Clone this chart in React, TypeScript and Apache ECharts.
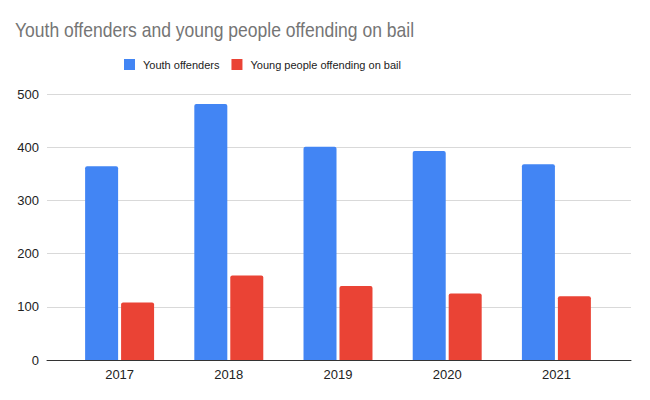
import React, { useEffect, useRef } from "react";
import * as echarts from "echarts";

const categories = ["2017", "2018", "2019", "2020", "2021"];
const youthOffenders = [364, 481, 401, 393, 368];
const offendingOnBail = [108, 159, 139, 125, 120];
const yTicks = [0, 100, 200, 300, 400, 500];
const titleText = "Youth offenders and young people offending on bail";

export default function App() {
  const ref = useRef<HTMLDivElement>(null);
  useEffect(() => {
    if (!ref.current) return;
    const chart = echarts.init(ref.current, undefined, { renderer: "svg" });
    const font = "Arial, 'Liberation Sans', sans-serif";
    chart.setOption({
      animation: false,
      backgroundColor: "#ffffff",
      textStyle: { fontFamily: font },
      graphic: [
        {
          type: "text",
          x: 15,
          y: 19,
          scaleX: 0.835,
          style: {
            text: titleText,
            font: "normal 21px Arial, 'Liberation Sans', sans-serif",
            fill: "#757575",
            verticalAlign: "top",
            align: "left",
          },
        },
      ],
      legend: {
        left: 124,
        top: 59,
        padding: 0,
        itemWidth: 11,
        itemHeight: 11,
        itemGap: 12,
        icon: "rect",
        textStyle: { fontFamily: font, fontSize: 11, color: "#222222", padding: [0, 0, 0, 3] },
        data: ["Youth offenders", "Young people offending on bail"],
      },
      grid: [
        { left: 47, right: 19, top: 94, bottom: 40 },
        { left: 65, right: 39, top: 94, bottom: 40 },
      ],
      xAxis: [
        {
          type: "category",
          gridIndex: 0,
          data: categories,
          axisLine: { show: true, lineStyle: { color: "#333333", width: 1 } },
          axisTick: { show: false },
          axisLabel: { show: false },
          splitLine: { show: false },
        },
        {
          type: "category",
          gridIndex: 1,
          data: categories,
          axisLine: { show: false },
          axisTick: { show: false },
          axisLabel: { fontFamily: font, fontSize: 13, color: "#222222", margin: 8 },
        },
      ],
      yAxis: [
        {
          type: "value",
          gridIndex: 0,
          min: yTicks[0],
          max: yTicks[yTicks.length - 1],
          interval: 100,
          axisLine: { show: false },
          axisTick: { show: false },
          axisLabel: { fontFamily: font, fontSize: 13, color: "#222222", margin: 8 },
          splitLine: { lineStyle: { color: "#d9d9d9", width: 1 } },
        },
        {
          type: "value",
          gridIndex: 1,
          min: yTicks[0],
          max: yTicks[yTicks.length - 1],
          interval: 100,
          show: false,
          splitLine: { show: false },
        },
      ],
      series: [
        {
          name: "Youth offenders",
          type: "bar",
          xAxisIndex: 1,
          yAxisIndex: 1,
          data: youthOffenders,
          barWidth: 33,
          barGap: "9%",
          itemStyle: { color: "#4285F4", borderRadius: [2, 2, 0, 0] },
        },
        {
          name: "Young people offending on bail",
          type: "bar",
          xAxisIndex: 1,
          yAxisIndex: 1,
          data: offendingOnBail,
          barWidth: 33,
          barGap: "9%",
          itemStyle: { color: "#EA4335", borderRadius: [2, 2, 0, 0] },
        },
      ],
    });
    return () => chart.dispose();
  }, []);
  return <div ref={ref} style={{ width: 650, height: 400, position: "absolute", left: 0, top: 0 }} />;
}
